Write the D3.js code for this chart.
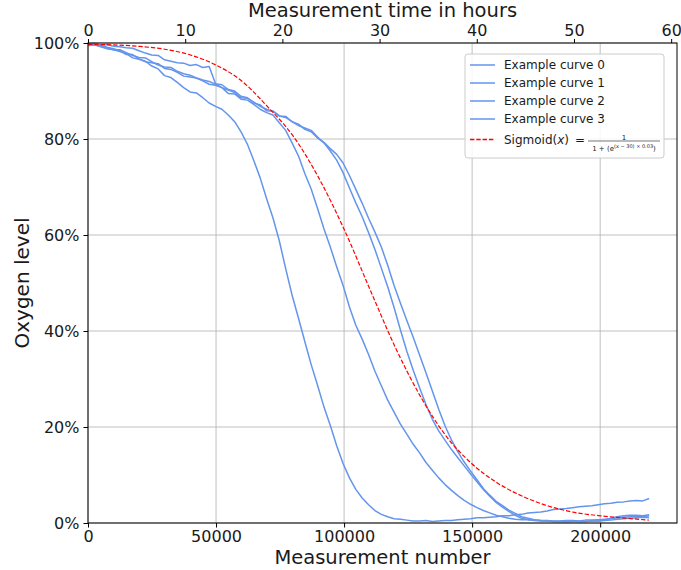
<!DOCTYPE html>
<html><head><meta charset="utf-8">
<script src="https://cdn.jsdelivr.net/npm/d3@7/dist/d3.min.js"></script>
<style>body{margin:0;background:#fff} text{font-family:"DejaVu Sans",sans-serif}</style>
</head><body><svg id="chart" width="681" height="570"></svg>
<script>
// ---- data ----
const sampleStep = 2490; // measurements between stored samples
const curve0 = [99.6,99.7,99.2,98.8,98.6,98.2,97.8,96.9,96.6,96.2,
95.2,94.6,93.2,92.8,91.8,90.7,89.8,89.6,88.6,87.5,
86.8,86.2,85.0,83.6,81.5,78.9,75.5,71.9,67.6,63.6,
58.8,53.0,47.5,42.7,37.8,33.0,28.7,24.2,20.3,16.1,
12.4,9.4,7.0,5.2,3.8,2.6,1.8,1.3,0.9,0.8,
0.6,0.4,0.4,0.5,0.3,0.4,0.5,0.5,0.7,0.8,
0.9,1.1,1.1,1.2,1.3,1.5,1.5,1.7,1.8,2.1,
2.2,2.3,2.5,2.8,2.9,3.0,3.2,3.4,3.5,3.6,
3.8,4.0,4.1,4.3,4.4,4.6,4.7,4.6,5.1];
const curve1 = [99.8,99.9,99.5,99.1,98.8,98.4,97.6,97.6,96.7,96.1,
95.9,95.7,94.7,94.5,93.9,93.1,92.9,92.7,92.1,91.4,
91.2,90.7,89.5,89.4,88.3,88.1,87.2,86.2,85.5,85.0,
83.4,81.8,79.2,76.5,72.8,69.6,65.5,61.3,57.5,53.4,
49.5,45.0,41.2,38.3,35.1,31.6,28.6,25.6,23.1,20.6,
18.5,16.4,14.6,12.6,11.0,9.4,8.0,6.8,5.7,4.7,
3.9,3.2,2.6,2.1,1.6,1.3,1.0,0.8,0.7,0.7,
0.6,0.5,0.5,0.4,0.4,0.5,0.5,0.4,0.6,0.6,
0.7,0.8,0.9,1.1,1.2,1.3,1.4,1.3,1.5];
const curve2 = [99.5,99.6,99.3,98.9,98.6,98.6,98.0,97.4,97.0,96.9,
96.1,95.4,95.0,94.9,94.1,93.6,93.3,92.7,92.3,92.0,
91.4,90.7,90.2,89.7,88.6,88.5,87.7,86.8,86.2,85.8,
84.8,84.5,83.6,82.8,82.3,81.8,80.4,79.2,77.5,75.6,
73.0,69.8,66.7,63.8,60.5,57.0,53.1,49.2,44.9,40.2,
35.8,31.8,28.2,24.7,21.6,19.2,17.2,15.3,13.6,11.9,
10.2,8.6,7.0,5.6,4.3,3.3,2.4,1.6,1.0,0.7,
0.5,0.4,0.4,0.3,0.3,0.4,0.4,0.3,0.3,0.4,
0.4,0.5,0.6,0.8,0.9,1.0,1.1,1.2,1.1];
const curve3 = [99.8,99.9,99.6,99.7,99.3,99.2,99.0,98.9,98.4,97.9,
97.5,97.4,96.5,96.2,95.9,95.8,95.3,95.5,94.9,95.1,
91.5,91.3,90.3,90.0,88.9,88.6,87.5,87.1,85.9,85.8,
84.8,84.7,83.6,83.1,82.0,81.5,80.2,79.3,78.0,76.8,
75.0,72.4,69.5,66.6,63.5,60.6,57.5,53.7,49.5,45.8,
42.2,38.7,35.0,31.3,27.5,23.7,20.2,17.3,14.8,12.7,
10.8,9.0,7.2,5.8,4.5,3.6,2.7,2.0,1.3,1.0,
0.7,0.5,0.4,0.3,0.3,0.2,0.3,0.3,0.3,0.4,
0.4,0.6,1.0,1.3,1.5,1.6,1.6,1.5,1.7];
const sigmoidX = [0,10000,20000,30000,40000,50000,60000,70000,80000,90000,100000,
110000,120000,130000,140000,150000,160000,170000,180000,190000,200000,210000,219000];
const sigmoidY = [99.7,99.6,99.3,98.7,97.5,95.4,92.1,86.8,80.7,72.0,61.2,
48.8,36.6,26.2,18.0,12.3,8.3,5.5,3.5,2.2,1.5,1.0,0.6];
const curveLabels = ["Example curve 0","Example curve 1","Example curve 2","Example curve 3"];
const xTicks = [0,50000,100000,150000,200000];
const topTicks = [0,10,20,30,40,50,60];
const yTicks = [0,20,40,60,80,100];

// ---- layout ----
const L=88, R=677, T=43, B=523;
const svg = d3.select("#chart");
const x = d3.scaleLinear().domain([0,230000]).range([L,R]);
const xTop = d3.scaleLinear().domain([0,60.6]).range([L,R]);
const y = d3.scaleLinear().domain([0,100]).range([B,T]);
const BLUE = "#6495ED", INK = "#1a1a1a";

// grid
const grid = svg.append("g").attr("stroke","#b0b0b0").attr("stroke-width",0.8);
grid.selectAll(".gx").data(xTicks).join("line")
  .attr("x1",d=>x(d)).attr("x2",d=>x(d)).attr("y1",T).attr("y2",B);
grid.selectAll(".gy").data(yTicks).join("line")
  .attr("y1",d=>y(d)).attr("y2",d=>y(d)).attr("x1",L).attr("x2",R);

// curves
const curves = [curve0,curve1,curve2,curve3];
const line = d3.line().x((d,i)=>x(i*sampleStep)).y(d=>y(d));
svg.append("g").selectAll("path").data(curves).join("path")
  .attr("d",line).attr("fill","none").attr("stroke",BLUE)
  .attr("stroke-width",1.5).attr("stroke-linejoin","round");

// sigmoid
const sLine = d3.line().curve(d3.curveMonotoneX).x((d,i)=>x(sigmoidX[i])).y(d=>y(d));
svg.append("path").datum(sigmoidY).attr("d",sLine).attr("fill","none")
  .attr("stroke","#ff0000").attr("stroke-width",1.2).attr("stroke-dasharray","4.4,1.9");

// spines
svg.append("rect").attr("x",L).attr("y",T).attr("width",R-L).attr("height",B-T)
  .attr("fill","none").attr("stroke","#000").attr("stroke-width",1);

// axes
function styleAxis(g){
  g.select(".domain").remove();
  g.selectAll("line").attr("stroke","#000");
  g.selectAll("text").attr("font-size",16).attr("fill",INK).attr("font-family","DejaVu Sans");
}
svg.append("g").attr("transform",`translate(0,${B})`)
  .call(d3.axisBottom(x).tickValues(xTicks).tickFormat(d3.format("d")).tickSize(4.5).tickPadding(3))
  .call(styleAxis);
svg.append("g").attr("transform",`translate(0,${T})`)
  .call(d3.axisTop(xTop).tickValues(topTicks).tickFormat(d3.format("d")).tickSize(4).tickPadding(3.5))
  .call(styleAxis);
svg.append("g").attr("transform",`translate(${L},0)`)
  .call(d3.axisLeft(y).tickValues(yTicks).tickFormat(d=>d+"%").tickSize(4.5).tickPadding(4))
  .call(styleAxis);

// titles
svg.append("text").attr("x",(L+R)/2).attr("y",16.5).attr("text-anchor","middle")
  .attr("font-size",19.5).attr("fill",INK).text("Measurement time in hours");
svg.append("text").attr("x",(L+R)/2).attr("y",564).attr("text-anchor","middle")
  .attr("font-size",19.5).attr("fill",INK).text("Measurement number");
svg.append("text").attr("transform",`translate(29,${(T+B)/2}) rotate(-90)`)
  .attr("text-anchor","middle").attr("font-size",20).attr("fill",INK).text("Oxygen level");

// legend
const lg = svg.append("g");
lg.append("rect").attr("x",465).attr("y",54).attr("width",199).attr("height",104)
  .attr("rx",3).attr("fill","#fff").attr("fill-opacity",0.85).attr("stroke","#cccccc");
const rowsY = [65,83,101,119];
curveLabels.forEach((lab,i)=>{
  lg.append("line").attr("x1",470).attr("x2",495).attr("y1",rowsY[i]).attr("y2",rowsY[i])
    .attr("stroke",BLUE).attr("stroke-width",1.5);
  lg.append("text").attr("x",504).attr("y",rowsY[i]+4.3).attr("font-size",12).attr("fill",INK).text(lab);
});
lg.append("line").attr("x1",470).attr("x2",495).attr("y1",139.5).attr("y2",139.5)
  .attr("stroke","#ff0000").attr("stroke-width",1.5).attr("stroke-dasharray","4.4,1.9");
const st = lg.append("text").attr("x",504).attr("y",144).attr("font-size",12).attr("fill",INK);
st.append("tspan").text("Sigmoid(");
st.append("tspan").attr("font-style","italic").text("x");
st.append("tspan").text(")");
lg.append("text").attr("x",575).attr("y",144).attr("font-size",12).attr("fill",INK).text("=");
lg.append("line").attr("x1",588).attr("x2",660).attr("y1",141).attr("y2",141).attr("stroke",INK).attr("stroke-width",0.6);
lg.append("text").attr("x",624).attr("y",139.5).attr("text-anchor","middle").attr("font-size",7).attr("fill",INK).text("1");
const den = lg.append("text").attr("x",624).attr("y",150.5).attr("text-anchor","middle").attr("font-size",7).attr("fill",INK);
den.append("tspan").text("1 + (e");
den.append("tspan").attr("font-size",5).attr("dy",-2.5).text("(x \u2212 30) \u00d7 0.03");
den.append("tspan").attr("dy",2.5).text(")");
</script></body></html>
